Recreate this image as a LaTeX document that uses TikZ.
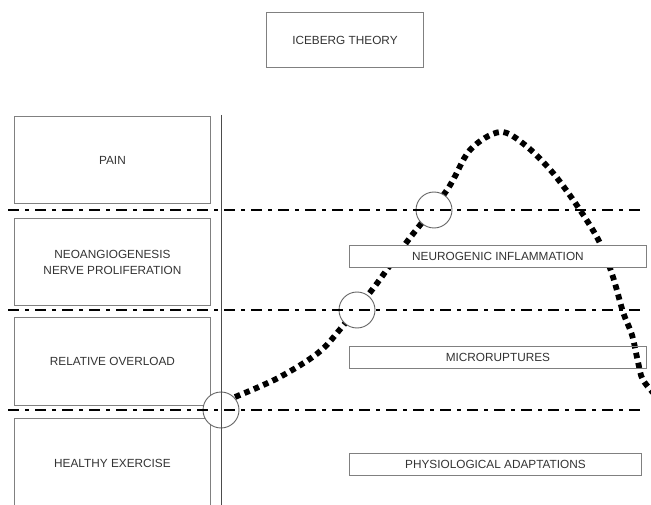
\documentclass[tikz,border=0pt]{standalone}
\usepackage{fontspec}
\setmainfont{Liberation Sans}
\usepackage{tikz}
\usetikzlibrary{positioning}

\begin{document}
\begin{tikzpicture}[
  x=1pt,y=-1pt,
  font=\fontsize{11.8}{16}\selectfont,
  box/.style={draw=black!50,line width=0.9pt,text=black!80,align=center,inner sep=0pt,anchor=north west},
  tag/.style={box,minimum height=22pt},
  ring/.style={circle,draw=black!60,line width=0.9pt,fill=white,minimum size=36pt,inner sep=0pt},
  level/.style={line width=2.8pt,dash pattern=on 11pt off 6pt on 4pt off 6pt},
  curve/.style={line width=5.8pt,dash pattern=on 5.6pt off 4.6pt},
]
\useasboundingbox (0,0) rectangle (651,505);
\clip (0,0) rectangle (651,505);
\node[box,minimum width=157pt,minimum height=55pt] (title) at (266,12) {ICEBERG THEORY};
\node[box,minimum width=196pt,minimum height=87pt] (pain) at (14,116) {PAIN};
\node[box,minimum width=196pt,minimum height=87pt] (neo) at (14,218) {NEOANGIOGENESIS\\NERVE PROLIFERATION};
\node[box,minimum width=196pt,minimum height=88pt] (overload) at (14,317) {RELATIVE OVERLOAD};
\node[box,minimum width=196pt,minimum height=90pt] (healthy) at (14,418) {HEALTHY EXERCISE};
\draw[curve] plot[smooth,tension=0.55] coordinates {(235,397) (278,378) (318,353) (342,327) (375,286) (406,243) (447,190) (470,150) (500,132) (525,145) (553,173) (580,210) (600,243) (613,277) (623,312) (632,335) (638,362) (643,380) (658,398)};
\node[tag,fill=white,minimum width=297pt] (neuro) at (349,245) {NEUROGENIC INFLAMMATION};
\node[tag,minimum width=297pt] (micro) at (349,346) {MICRORUPTURES};
\node[tag,minimum width=292pt] (physio) at (349,453) {PHYSIOLOGICAL ADAPTATIONS};
\node[ring] (c1) at (221,410) {};
\node[ring] (c2) at (357,310) {};
\node[ring] (c3) at (434,210) {};
\draw[level] (8,210) -- (643,210);
\draw[level] (8,310) -- (643,310);
\draw[level] (8,410) -- (643,410);
\draw[black!70,line width=0.9pt] (221,115) -- (221,510);
\end{tikzpicture}
\end{document}
